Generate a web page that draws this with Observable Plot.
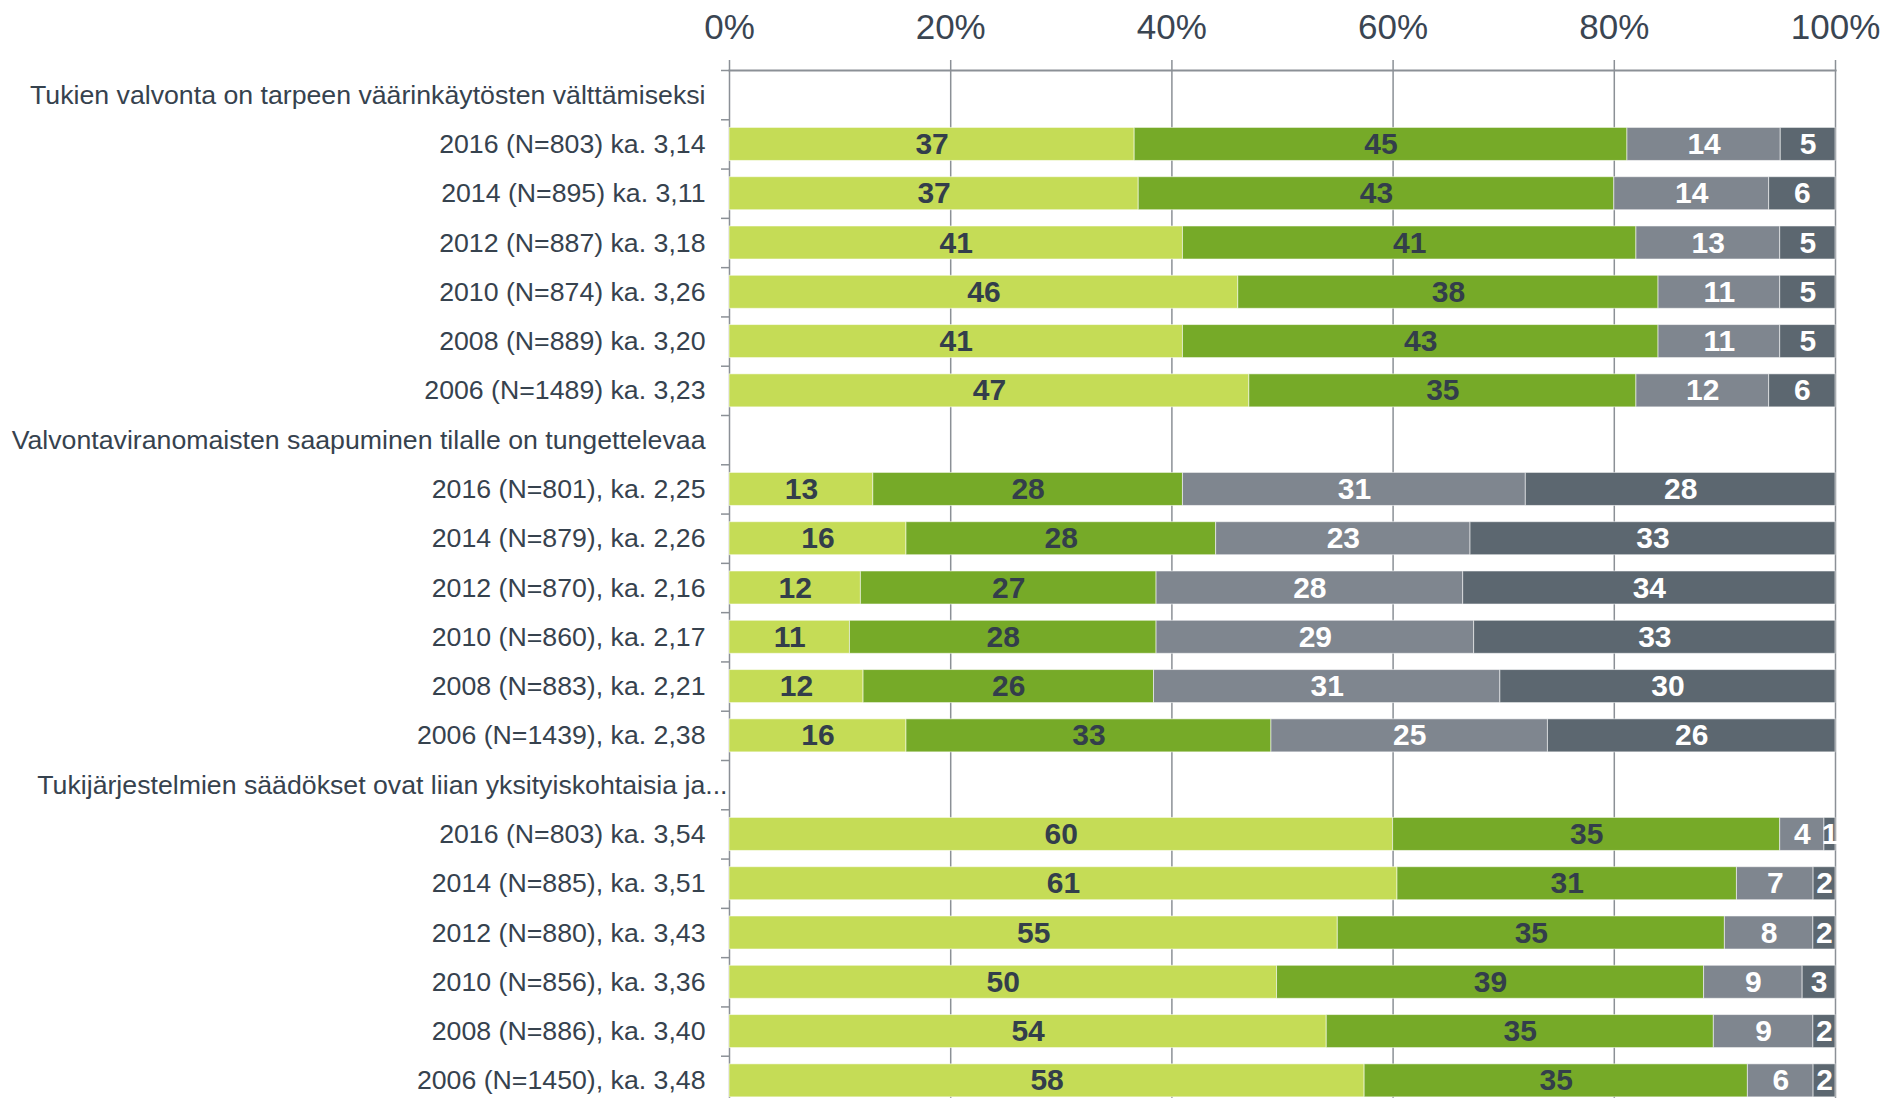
<!DOCTYPE html>
<html>
<head>
<meta charset="utf-8">
<script src="https://cdn.jsdelivr.net/npm/d3@7"></script>
<script src="https://cdn.jsdelivr.net/npm/@observablehq/plot@0.6"></script>
<style>
html, body { margin: 0; padding: 0; background: #fff; overflow: hidden; }
#chart svg { display: block; }
</style>
</head>
<body>
<div id="chart"></div>
<script>
// ---- data ----
const statements = [
  "Tukien valvonta on tarpeen väärinkäytösten välttämiseksi",
  "Valvontaviranomaisten saapuminen tilalle on tungettelevaa",
  "Tukijärjestelmien säädökset ovat liian yksityiskohtaisia ja..."
];

const yearLabels1 = [
  "2016 (N=803) ka. 3,14",
  "2014 (N=895) ka. 3,11",
  "2012 (N=887) ka. 3,18",
  "2010 (N=874) ka. 3,26",
  "2008 (N=889) ka. 3,20",
  "2006 (N=1489) ka. 3,23"
];
const yearLabels2 = [
  "2016 (N=801), ka. 2,25",
  "2014 (N=879), ka. 2,26",
  "2012 (N=870), ka. 2,16",
  "2010 (N=860), ka. 2,17",
  "2008 (N=883), ka. 2,21",
  "2006 (N=1439), ka. 2,38"
];
const yearLabels3 = [
  "2016 (N=803) ka. 3,54",
  "2014 (N=885), ka. 3,51",
  "2012 (N=880), ka. 3,43",
  "2010 (N=856), ka. 3,36",
  "2008 (N=886), ka. 3,40",
  "2006 (N=1450), ka. 3,48"
];

// response categories (4 = täysin samaa mieltä ... 1 = täysin eri mieltä)
const categories = ["Täysin samaa mieltä", "Jokseenkin samaa mieltä", "Jokseenkin eri mieltä", "Täysin eri mieltä"];
const colors = ["#c5dc56", "#76aa28", "#7f868f", "#5c6770"];

const values1 = [
  [37, 45, 14, 5],
  [37, 43, 14, 6],
  [41, 41, 13, 5],
  [46, 38, 11, 5],
  [41, 43, 11, 5],
  [47, 35, 12, 6]
];
const values2 = [
  [13, 28, 31, 28],
  [16, 28, 23, 33],
  [12, 27, 28, 34],
  [11, 28, 29, 33],
  [12, 26, 31, 30],
  [16, 33, 25, 26]
];
const values3 = [
  [60, 35, 4, 1],
  [61, 31, 7, 2],
  [55, 35, 8, 2],
  [50, 39, 9, 3],
  [54, 35, 9, 2],
  [58, 35, 6, 2]
];

const xTicks = [0, 0.2, 0.4, 0.6, 0.8, 1];

// ---- tables for Plot ----
const groups = [
  {statement: statements[0], labels: yearLabels1, values: values1},
  {statement: statements[1], labels: yearLabels2, values: values2},
  {statement: statements[2], labels: yearLabels3, values: values3}
];
const rows = [];
const cells = [];
groups.forEach((g, gi) => {
  rows.push({id: `g${gi}`, label: g.statement, truncated: g.statement.endsWith("...")});
  g.labels.forEach((lab, ri) => {
    const id = `g${gi}r${ri}`;
    rows.push({id, label: lab, truncated: false});
    g.values[ri].forEach((v, ci) => cells.push({id, category: categories[ci], ci, value: v}));
  });
});

// ---- layout ----
const W = 1904, H = 1105, MT = 70, MB = 0, ML = 729, MR = 69;
const step = (H - MT - MB) / rows.length;
const gridColor = "#8b9096";
const textColor = "#36424e";

const chart = Plot.plot({
  width: W,
  height: H,
  marginTop: MT,
  marginBottom: MB,
  marginLeft: ML,
  marginRight: MR,
  style: {fontFamily: "'Liberation Sans', Arial, sans-serif", background: "#fff", color: textColor},
  x: {domain: [0, 1], axis: null},
  y: {domain: rows.map(d => d.id), paddingInner: 0.33, paddingOuter: 0.165, round: false, axis: null},
  color: {domain: categories, range: colors},
  marks: [
    Plot.gridX(xTicks, {stroke: gridColor, strokeOpacity: 1, strokeWidth: 1.5}),
    Plot.barX(cells, Plot.stackX({
      x: "value", y: "id", fill: "category", offset: "normalize",
      stroke: "#ffffff", strokeOpacity: 0.55, strokeWidth: 1
    })),
    Plot.text(cells, Plot.stackX({
      x: "value", y: "id", offset: "normalize",
      text: d => d.ci < 2 ? String(d.value) : "",
      fill: "#333e4b", fontWeight: "bold", fontSize: 30
    })),
    Plot.text(cells, Plot.stackX({
      x: "value", y: "id", offset: "normalize",
      text: d => d.ci >= 2 ? String(d.value) : "",
      fill: "#ffffff", fontWeight: "bold", fontSize: 30
    })),
    Plot.frame({anchor: "top", stroke: gridColor, strokeWidth: 2}),
    Plot.axisX({
      anchor: "top", ticks: xTicks, tickFormat: d3.format(".0%"),
      tickSize: 11, tickPadding: 21, fontSize: 35,
      stroke: gridColor, strokeWidth: 1.5, fill: "#3a4552", label: null
    }),
    Plot.axisY({
      tickSize: 8, tickFormat: () => "", dy: -step / 2,
      stroke: gridColor, strokeWidth: 1.5, label: null
    }),
    Plot.text(rows.filter(d => !d.truncated), {
      y: "id", text: "label", frameAnchor: "left", textAnchor: "end",
      dx: -24, fontSize: 26.7, fill: textColor
    }),
    Plot.text(rows.filter(d => d.truncated), {
      y: "id", text: "label", frameAnchor: "left", textAnchor: "end",
      dx: -2, fontSize: 26.7, fill: textColor
    })
  ]
});

document.getElementById("chart").appendChild(chart);
</script>
</body>
</html>
